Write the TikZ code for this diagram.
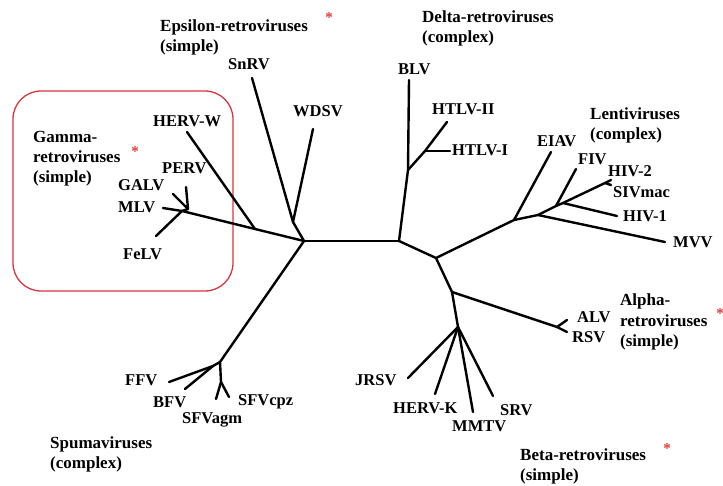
\documentclass[tikz,border=0pt]{standalone}
\usepackage{fontspec}
\setmainfont{Liberation Serif}
\usepackage{xcolor}
\definecolor{boxred}{HTML}{D9363E}
\definecolor{starred}{HTML}{E53935}

\begin{document}
\begin{tikzpicture}[x=1pt, y=-1pt,
    branch/.style={line width=2.4pt, line cap=round, line join=round},
    taxon/.style={anchor=base west, inner sep=0pt, font=\fontsize{16.5}{20}\selectfont\bfseries},
    clade/.style={anchor=base west, inner sep=0pt, align=left, font=\fontsize{17}{20}\selectfont\bfseries},
    redstar/.style={inner sep=0pt, text=starred, font=\fontsize{15}{15}\selectfont\bfseries},
]
\useasboundingbox (0,0) rectangle (723,486);

% ── Hubs ──
\coordinate (L) at (304,241);
\coordinate (R) at (399,241);
\draw[branch] (L) -- (R);

% ── Gamma ──
\draw[boxred, line width=1.3pt, rounded corners=28pt] (13,91) rectangle (233,291);
\node[clade] (cGamma) at (33,183) {Gamma-\\retroviruses\\(simple)};
\node[redstar] (sGamma) at (135,152) {*};
\coordinate (gj) at (255,229);
\coordinate (g1) at (182,211);
\coordinate (g2) at (188,209);
\coordinate (tMLV) at (163,208);
\coordinate (tFeLV) at (156,236);
\coordinate (tGALV) at (173,194);
\coordinate (tPERV) at (186,187);
\coordinate (tHERVW) at (187,132);
\draw[branch] (tMLV) -- (g1) -- (gj) -- (L);
\draw[branch] (tFeLV) -- (g1) -- (g2);
\draw[branch] (tGALV) -- (g2) -- (tPERV);
\draw[branch] (tHERVW) -- (gj);
\node[taxon] (lHERVW) at (153,127) {HERV-W};
\node[taxon] (lPERV) at (162,174) {PERV};
\node[taxon] (lGALV) at (118,191) {GALV};
\node[taxon] (lMLV) at (118,213) {MLV};
\node[taxon] (lFeLV) at (123,260) {FeLV};

% ── Epsilon ──
\node[clade] (cEps) at (160,52) {Epsilon-retroviruses\\(simple)};
\node[redstar] (sEps) at (329,18) {*};
\coordinate (ej) at (293,222);
\coordinate (tSnRV) at (252,78);
\coordinate (tWDSV) at (313,129);
\draw[branch] (tSnRV) -- (ej) -- (L);
\draw[branch] (tWDSV) -- (ej);
\node[taxon] (lSnRV) at (228,70) {SnRV};
\node[taxon] (lWDSV) at (293,117) {WDSV};

% ── Delta ──
\node[clade] (cDelta) at (422,43) {Delta-retroviruses\\(complex)};
\coordinate (d1) at (408,170);
\coordinate (d2) at (425,151);
\coordinate (tBLV) at (409,80);
\coordinate (tHTLVII) at (447,122);
\coordinate (tHTLVI) at (450,151);
\draw[branch] (R) -- (d1) -- (tBLV);
\draw[branch] (d1) -- (d2) -- (tHTLVII);
\draw[branch] (d2) -- (tHTLVI);
\node[taxon] (lBLV) at (398,75) {BLV};
\node[taxon] (lHTLVII) at (432,115) {HTLV-II};
\node[taxon] (lHTLVI) at (452,156) {HTLV-I};

% ── Lentiviruses ──
\node[clade] (cLenti) at (590,140) {Lentiviruses\\(complex)};
\coordinate (n1) at (436,258);
\coordinate (l1) at (514,220);
\coordinate (l2) at (538,215);
\coordinate (l3) at (556,206);
\coordinate (l4) at (563,203);
\coordinate (l5) at (605,183);
\coordinate (tEIAV) at (551,152);
\coordinate (tMVV) at (665,242);
\coordinate (tFIV) at (576,169);
\coordinate (tHIV1) at (617,216);
\coordinate (tHIV2) at (611,180);
\coordinate (tSIVmac) at (611,185);
\draw[branch] (R) -- (n1) -- (l1) -- (l2) -- (l3) -- (l4) -- (l5) -- (tHIV2);
\draw[branch] (l5) -- (tSIVmac);
\draw[branch] (l1) -- (tEIAV);
\draw[branch] (l2) -- (tMVV);
\draw[branch] (l3) -- (tFIV);
\draw[branch] (l4) -- (tHIV1);
\node[taxon] (lEIAV) at (537,147) {EIAV};
\node[taxon] (lFIV) at (578,165) {FIV};
\node[taxon] (lHIV2) at (608,177) {HIV-2};
\node[taxon] (lSIVmac) at (613,198) {SIVmac};
\node[taxon] (lHIV1) at (623,222) {HIV-1};
\node[taxon] (lMVV) at (673,248) {MVV};

% ── Alpha ──
\node[clade] (cAlpha) at (620,346) {Alpha-\\retroviruses\\(simple)};
\node[redstar] (sAlpha) at (720,314) {*};
\coordinate (n2) at (452,292);
\coordinate (a1) at (557,327);
\coordinate (tALV) at (567,320);
\coordinate (tRSV) at (567,332);
\draw[branch] (n1) -- (n2) -- (a1) -- (tALV);
\draw[branch] (a1) -- (tRSV);
\node[taxon] (lALV) at (577,323) {ALV};
\node[taxon] (lRSV) at (572,342) {RSV};

% ── Beta ──
\node[clade] (cBeta) at (520,480) {Beta-retroviruses\\(simple)};
\node[redstar] (sBeta) at (667,449) {*};
\coordinate (b1) at (458,327);
\coordinate (tJRSV) at (408,378);
\coordinate (tHERVK) at (435,394);
\coordinate (tMMTV) at (473,412);
\coordinate (tSRV) at (493,396);
\draw[branch] (n2) -- (b1) -- (tJRSV);
\draw[branch] (b1) -- (tHERVK);
\draw[branch] (b1) -- (tMMTV);
\draw[branch] (b1) -- (tSRV);
\node[taxon] (lJRSV) at (355,385) {JRSV};
\node[taxon] (lHERVK) at (393,413) {HERV-K};
\node[taxon] (lMMTV) at (452,431) {MMTV};
\node[taxon] (lSRV) at (500,415) {SRV};

% ── Spuma ──
\node[clade] (cSpuma) at (50,468) {Spumaviruses\\(complex)};
\coordinate (s1) at (220,362);
\coordinate (s2) at (213,366);
\coordinate (s3) at (221,382);
\coordinate (tFFV) at (169,382);
\coordinate (tBFV) at (185,389);
\coordinate (tSFVagm) at (216,399);
\coordinate (tSFVcpz) at (229,397);
\draw[branch] (L) -- (s1) -- (s2) -- (tFFV);
\draw[branch] (s2) -- (tBFV);
\draw[branch] (s1) -- (s3) -- (tSFVagm);
\draw[branch] (s3) -- (tSFVcpz);
\node[taxon] (lFFV) at (125,385) {FFV};
\node[taxon] (lBFV) at (153,407) {BFV};
\node[taxon] (lSFVagm) at (182,423) {SFVagm};
\node[taxon] (lSFVcpz) at (238,405) {SFVcpz};

\end{tikzpicture}
\end{document}
